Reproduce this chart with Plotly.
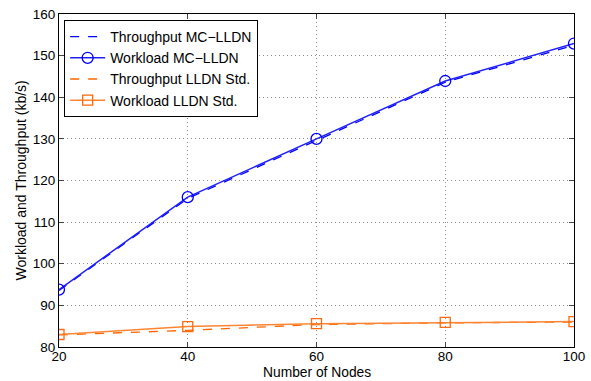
import plotly.graph_objects as go

nodes = [20, 40, 60, 80, 100]
throughput_mc = [93.6, 115.7, 129.6, 143.6, 152.5]
workload_mc = [93.8, 116.0, 130.0, 143.9, 152.9]
throughput_std = [82.9, 84.0, 85.4, 85.8, 86.0]
workload_std = [83.0, 84.9, 85.6, 85.9, 86.1]

x_ticks = [20, 40, 60, 80, 100]
y_ticks = [80, 90, 100, 110, 120, 130, 140, 150, 160]

fig = go.Figure()
fig.add_trace(go.Scatter(x=nodes, y=throughput_mc, mode="lines", name="Throughput MC\u2212LLDN",
                         line=dict(color="#0000ff", width=1.3, dash="dash")))
fig.add_trace(go.Scatter(x=nodes, y=workload_mc, mode="lines+markers", name="Workload MC\u2212LLDN",
                         line=dict(color="#2020ff", width=1.5),
                         marker=dict(symbol="circle-open", size=11, color="#0000ff", line=dict(width=1.3))))
fig.add_trace(go.Scatter(x=nodes, y=throughput_std, mode="lines", name="Throughput LLDN Std.",
                         line=dict(color="#ff6600", width=1.3, dash="dash")))
fig.add_trace(go.Scatter(x=nodes, y=workload_std, mode="lines+markers", name="Workload LLDN Std.",
                         line=dict(color="#ff8533", width=1.5),
                         marker=dict(symbol="square-open", size=10, color="#ff6a10", line=dict(width=1.3))))

font = "Liberation Sans, Arial, sans-serif"
grid = dict(showgrid=True, gridcolor="#8c8c8c", griddash="1px,3px", gridwidth=1)
fig.update_layout(
    width=591, height=381,
    margin=dict(l=59, r=17, t=14, b=34),
    paper_bgcolor="white", plot_bgcolor="white",
    font=dict(family=font, size=13, color="black"),
    showlegend=True,
    legend=dict(x=0.01, y=0.982, xanchor="left", yanchor="top",
                bgcolor="white", bordercolor="black", borderwidth=1,
                font=dict(size=14), tracegroupgap=0, itemwidth=35),
    xaxis=dict(range=[20, 100], tickvals=x_ticks, ticks="inside", ticklen=5,
               showline=True, linecolor="black", linewidth=1, mirror="ticks",
               zeroline=False, automargin=False, ticklabelstandoff=-3,
               tickfont=dict(size=13.5), **grid),
    yaxis=dict(range=[80, 160], tickvals=y_ticks, ticks="inside", ticklen=5,
               showline=True, linecolor="black", linewidth=1, mirror="ticks",
               zeroline=False, automargin=False,
               tickfont=dict(size=13.5), **grid),
    annotations=[
        dict(text="Number of Nodes", xref="paper", yref="paper", x=0.5, y=0,
             xanchor="center", yanchor="middle", yshift=-25, showarrow=False,
             font=dict(size=13.8), borderpad=0),
        dict(text="Workload and Throughput (kb/s)", xref="paper", yref="paper", x=0, y=0.5,
             xanchor="center", yanchor="middle", xshift=-39, textangle=-90, showarrow=False,
             font=dict(size=14), borderpad=0),
    ],
)
fig.write_html("out.html")
